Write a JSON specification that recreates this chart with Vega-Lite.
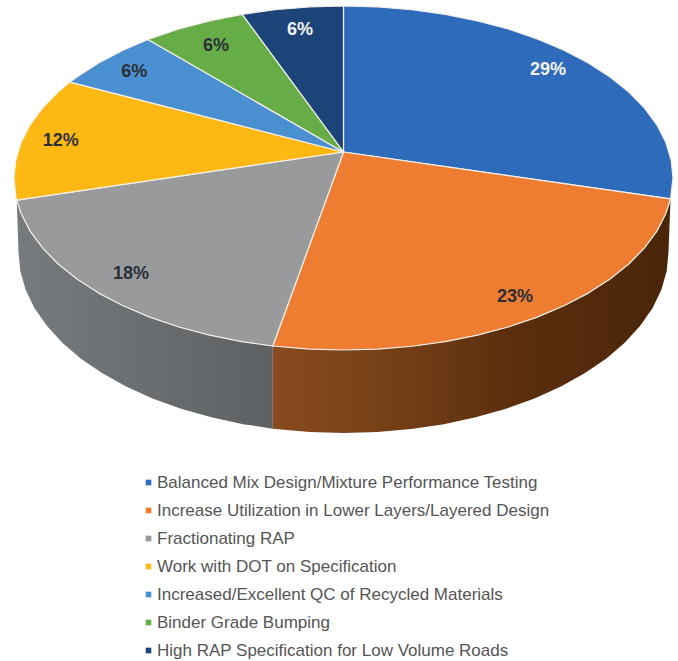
{
  "$schema": "https://vega.github.io/schema/vega-lite/v6.json",
  "width": 678,
  "height": 661,
  "padding": 0,
  "autosize": {"type": "none"},
  "background": "#ffffff",
  "view": {"stroke": null},
  "projection": {"type": "identity", "reflectY": true, "scale": 329.5, "translate": [343.5, 178]},
  "datasets": {
    "grayWall": [
      {"type": "Feature", "properties": {"name": "Fractionating RAP wall"}, "geometry": {"type": "Polygon", "coordinates": [[
        [-0.9917,-0.0672],[-0.9863,-0.2246],[-0.9809,-0.282],[-0.9647,-0.3388],[-0.9381,-0.3943],[-0.901,-0.448],[-0.8541,-0.4993],[-0.7979,-0.5475],[-0.7329,-0.5921],[-0.6599,-0.6328],[-0.5797,-0.669],[-0.4932,-0.7003],[-0.4011,-0.7264],[-0.3048,-0.747],[-0.2146,-0.7607],
        [-0.2146,-0.5099],[-0.309,-0.4965],[-0.4067,-0.4768],[-0.5,-0.4521],[-0.5878,-0.4223],[-0.6691,-0.3879],[-0.7431,-0.3493],[-0.809,-0.3068],[-0.866,-0.261],[-0.9135,-0.2123],[-0.9511,-0.1613],[-0.9781,-0.1085],[-0.9917,-0.0672]
      ]]}}
    ],
    "orangeWall": [
      {"type": "Feature", "properties": {"name": "Increase Utilization wall"}, "geometry": {"type": "Polygon", "coordinates": [[
        [0.9925,-0.0636],[0.9863,-0.2246],[0.9809,-0.282],[0.9647,-0.3388],[0.9381,-0.3943],[0.901,-0.448],[0.8541,-0.4993],[0.7979,-0.5475],[0.7329,-0.5921],[0.6599,-0.6328],[0.5797,-0.669],[0.4932,-0.7003],[0.4011,-0.7264],[0.3048,-0.747],[0.2051,-0.7619],[0.1031,-0.7709],[0,-0.7739],[-0.1031,-0.7709],[-0.2146,-0.7607],
        [-0.2146,-0.5099],[-0.1045,-0.5191],[0,-0.522],[0.1045,-0.5191],[0.2079,-0.5106],[0.309,-0.4965],[0.4067,-0.4768],[0.5,-0.4521],[0.5878,-0.4223],[0.6691,-0.3879],[0.7431,-0.3493],[0.809,-0.3068],[0.866,-0.261],[0.9135,-0.2123],[0.9511,-0.1613],[0.9781,-0.1085],[0.9925,-0.0636]
      ]]}}
    ],
    "slices": [
      {"type": "Feature", "properties": {"name": "Balanced Mix Design/Mixture Performance Testing", "share": 0.29, "labelLon": 0.6206, "labelLat": 0.3278}, "geometry": {"type": "Polygon", "coordinates": [[
        [0,0.079],[0,0.522],[0.1045,0.5191],[0.2079,0.5106],[0.309,0.4965],[0.4067,0.4768],[0.5,0.4521],[0.5878,0.4223],[0.6691,0.3879],[0.7431,0.3493],[0.809,0.3068],[0.866,0.261],[0.9135,0.2123],[0.9511,0.1613],[0.9781,0.1085],[0.9945,0.0545],[1,0],[0.9925,-0.0636],[0,0.079]
      ]]}},
      {"type": "Feature", "properties": {"name": "Increase Utilization in Lower Layers/Layered Design", "share": 0.23, "labelLon": 0.5205, "labelLat": -0.3618}, "geometry": {"type": "Polygon", "coordinates": [[
        [0,0.079],[0.9925,-0.0636],[0.9781,-0.1085],[0.9511,-0.1613],[0.9135,-0.2123],[0.866,-0.261],[0.809,-0.3068],[0.7431,-0.3493],[0.6691,-0.3879],[0.5878,-0.4223],[0.5,-0.4521],[0.4067,-0.4768],[0.309,-0.4965],[0.2079,-0.5106],[0.1045,-0.5191],[0,-0.522],[-0.1045,-0.5191],[-0.2146,-0.5099],[0,0.079]
      ]]}},
      {"type": "Feature", "properties": {"name": "Fractionating RAP", "share": 0.18, "labelLon": -0.645, "labelLat": -0.2913}, "geometry": {"type": "Polygon", "coordinates": [[
        [0,0.079],[-0.2146,-0.5099],[-0.309,-0.4965],[-0.4067,-0.4768],[-0.5,-0.4521],[-0.5878,-0.4223],[-0.6691,-0.3879],[-0.7431,-0.3493],[-0.809,-0.3068],[-0.866,-0.261],[-0.9135,-0.2123],[-0.9511,-0.1613],[-0.9781,-0.1085],[-0.9917,-0.0672],[0,0.079]
      ]]}},
      {"type": "Feature", "properties": {"name": "Work with DOT on Specification", "share": 0.12, "labelLon": -0.8583, "labelLat": 0.1123}, "geometry": {"type": "Polygon", "coordinates": [[
        [0,0.079],[-0.9917,-0.0672],[-0.9945,-0.0545],[-1,0],[-0.9945,0.0545],[-0.9781,0.1085],[-0.9511,0.1613],[-0.9135,0.2123],[-0.866,0.261],[-0.83,0.2911],[0,0.079]
      ]]}},
      {"type": "Feature", "properties": {"name": "Increased/Excellent QC of Recycled Materials", "share": 0.06, "labelLon": -0.6349, "labelLat": 0.3217}, "geometry": {"type": "Polygon", "coordinates": [[
        [0,0.079],[-0.83,0.2911],[-0.809,0.3068],[-0.7431,0.3493],[-0.6691,0.3879],[-0.5934,0.4202],[0,0.079]
      ]]}},
      {"type": "Feature", "properties": {"name": "Binder Grade Bumping", "share": 0.06, "labelLon": -0.3869, "labelLat": 0.4015}, "geometry": {"type": "Polygon", "coordinates": [[
        [0,0.079],[-0.5934,0.4202],[-0.5,0.4521],[-0.4067,0.4768],[-0.3074,0.4967],[0,0.079]
      ]]}},
      {"type": "Feature", "properties": {"name": "High RAP Specification for Low Volume Roads", "share": 0.06, "labelLon": -0.132, "labelLat": 0.4483}, "geometry": {"type": "Polygon", "coordinates": [[
        [0,0.079],[-0.3074,0.4967],[-0.2079,0.5106],[-0.1045,0.5191],[0,0.522],[0,0.079]
      ]]}}
    ]
  },
  "layer": [
    {
      "data": {"name": "grayWall"},
      "mark": {
        "type": "geoshape",
        "strokeWidth": 0,
        "fill": {"gradient": "linear", "x1": 0, "x2": 1, "y1": 0, "y2": 0, "stops": [
          {"offset": 0, "color": "#787b7d"},
          {"offset": 0.5, "color": "#6b6e70"},
          {"offset": 1, "color": "#5e6163"}
        ]}
      },
      "encoding": {}
    },
    {
      "data": {"name": "orangeWall"},
      "mark": {
        "type": "geoshape",
        "strokeWidth": 0,
        "fill": {"gradient": "linear", "x1": 0, "x2": 1, "y1": 0, "y2": 0, "stops": [
          {"offset": 0, "color": "#884a1e"},
          {"offset": 0.3, "color": "#754016"},
          {"offset": 0.6, "color": "#5b2f0e"},
          {"offset": 1, "color": "#4a2508"}
        ]}
      },
      "encoding": {}
    },
    {
      "data": {"name": "slices"},
      "mark": {"type": "geoshape", "stroke": "#f4efe8", "strokeWidth": 1.2, "strokeJoin": "round"},
      "encoding": {
        "color": {
          "field": "properties.name",
          "type": "nominal",
          "scale": {
            "domain": [
              "Balanced Mix Design/Mixture Performance Testing",
              "Increase Utilization in Lower Layers/Layered Design",
              "Fractionating RAP",
              "Work with DOT on Specification",
              "Increased/Excellent QC of Recycled Materials",
              "Binder Grade Bumping",
              "High RAP Specification for Low Volume Roads"
            ],
            "range": ["#2e6bbb", "#ee7d31", "#989a9c", "#fdb813", "#4a90d0", "#66ad47", "#1c4479"]
          },
          "legend": {
            "title": null,
            "orient": "none",
            "legendX": 140,
            "legendY": 474,
            "symbolType": "square",
            "symbolSize": 32,
            "symbolStrokeWidth": 0,
            "labelFont": "Liberation Sans",
            "labelFontSize": 17,
            "labelColor": "#555555",
            "labelLimit": 600,
            "labelOffset": 0,
            "rowPadding": 10
          }
        }
      }
    },
    {
      "data": {"name": "slices"},
      "mark": {"type": "text", "font": "Liberation Sans", "fontWeight": "bold", "fontSize": 18, "align": "center", "baseline": "middle"},
      "encoding": {
        "longitude": {"field": "properties.labelLon", "type": "quantitative"},
        "latitude": {"field": "properties.labelLat", "type": "quantitative"},
        "text": {"field": "properties.share", "type": "quantitative", "format": ".0%"},
        "color": {
          "condition": {
            "test": "datum.properties.name === 'Balanced Mix Design/Mixture Performance Testing' || datum.properties.name === 'High RAP Specification for Low Volume Roads'",
            "value": "#f4f4f4"
          },
          "value": "#2b2f38"
        }
      }
    }
  ]
}
